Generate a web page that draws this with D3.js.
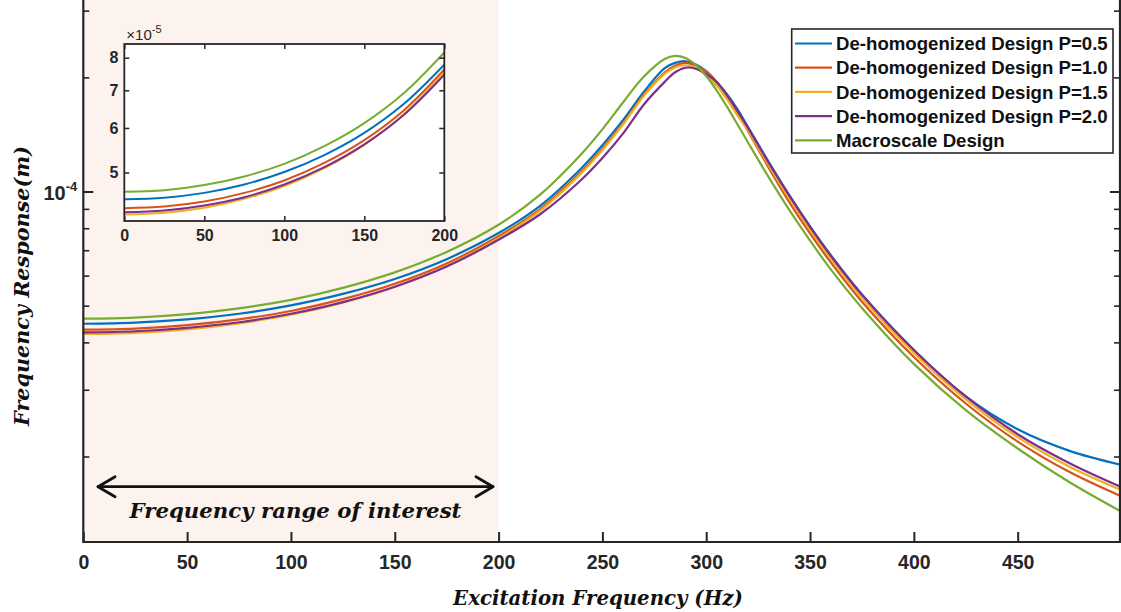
<!DOCTYPE html>
<html>
<head>
<meta charset="utf-8">
<script src="https://cdn.jsdelivr.net/npm/d3@7"></script>
<style>
  html, body { margin: 0; padding: 0; background: #fff; }
  svg { display: block; }
  .tick text { font-family: "Liberation Sans", Arial, sans-serif; font-weight: bold; fill: #262626; }
  .math { font-family: "DejaVu Serif", serif; font-weight: bold; font-style: italic; fill: #111; }
</style>
</head>
<body>
<script>
// Data ---------------------------------------------------------
// response values are in units of 1e-5 m
const freq = [0, 25, 50, 75, 100, 125, 150, 175, 200,
              220, 240, 250, 260, 270, 280, 285, 290, 295, 300, 305, 310, 315, 320,
              330, 340, 350, 360, 375, 400, 425, 450, 475, 500];

const respP05 = [4.48, 4.51, 4.60, 4.76, 5.01, 5.37, 5.88, 6.63, 7.77,
                 9.17, 11.54, 13.25, 15.45, 18.34, 21.16, 21.84, 22.06, 21.62, 20.77, 19.48, 18.06, 16.5, 14.84,
                 11.99, 9.78, 8.09, 6.79, 5.35, 3.82, 2.88, 2.36, 2.07, 1.90];
const respP10 = [4.32, 4.35, 4.44, 4.60, 4.84, 5.20, 5.71, 6.46, 7.62,
                 8.99, 11.30, 12.97, 15.15, 18.0, 20.59, 21.47, 21.85, 21.51, 20.7, 19.44, 17.85, 16.18, 14.47,
                 11.58, 9.38, 7.75, 6.50, 5.12, 3.66, 2.76, 2.19, 1.82, 1.57];
const respP15 = [4.21, 4.24, 4.33, 4.49, 4.73, 5.09, 5.60, 6.36, 7.53,
                 8.90, 11.20, 12.86, 15.03, 17.88, 20.43, 21.24, 21.53, 21.14, 20.25, 19.04, 17.5, 15.89, 14.52,
                 11.75, 9.57, 7.92, 6.65, 5.24, 3.75, 2.83, 2.25, 1.88, 1.63];
const respP20 = [4.25, 4.28, 4.37, 4.52, 4.76, 5.11, 5.61, 6.34, 7.46,
                 8.71, 10.76, 12.26, 14.24, 16.97, 19.46, 20.63, 21.21, 21.08, 20.42, 19.45, 17.96, 16.33, 14.76,
                 11.93, 9.75, 8.07, 6.77, 5.34, 3.82, 2.88, 2.29, 1.92, 1.66];
const respMacro = [4.62, 4.65, 4.75, 4.92, 5.18, 5.57, 6.12, 6.93, 8.17,
                   9.81, 12.58, 14.59, 17.20, 20.1, 22.37, 22.78, 22.49, 21.56, 20.16, 18.48, 16.74, 15.05, 13.51,
                   10.93, 8.94, 7.42, 6.23, 4.93, 3.51, 2.65, 2.10, 1.71, 1.43];

const seriesNames = ['De-homogenized Design P=0.5', 'De-homogenized Design P=1.0', 'De-homogenized Design P=1.5',
                     'De-homogenized Design P=2.0', 'Macroscale Design'];
const seriesValues = [respP05, respP10, respP15, respP20, respMacro];

const xTicks = [0, 50, 100, 150, 200, 250, 300, 350, 400, 450];
const yMajorTicks = [1e-4];
const yMinorTicks = [2e-5, 3e-5, 4e-5, 5e-5, 6e-5, 7e-5, 8e-5, 9e-5, 2e-4, 3e-4];
const insetXTicks = [0, 50, 100, 150, 200];
const insetYTicks = [5, 6, 7, 8];
const rangeOfInterest = [0, 200];

// Layout -------------------------------------------------------
const colors = ['#0072BD', '#D95319', '#EDB120', '#7E2F8E', '#77AC30'];
const axisColor = '#262626';
const W = 1121, H = 612;
const plot = {left: 83.3, right: 1121.5, top: 0, bottom: 542};
const inset = {left: 124.3, right: 444.3, top: 44, bottom: 221};

const svg = d3.select('body').append('svg')
  .attr('width', W).attr('height', H)
  .attr('viewBox', `0 0 ${W} ${H}`);

// Scales -------------------------------------------------------
const x = d3.scaleLinear().domain([0, 500]).range([plot.left, plot.right]);
const y = d3.scaleLog().domain([1.19e-5, 3.2e-4]).range([plot.bottom, plot.top]);

const ix = d3.scaleLinear().domain([0, 200]).range([inset.left, inset.right]);
const iy = d3.scaleLog().domain([4.10, 8.46]).range([inset.bottom, inset.top]);

const fitText = (sel, target, base) => {
  sel.style('font-size', `${base}px`);
  const len = sel.node().getComputedTextLength();
  sel.style('font-size', `${base * target / len}px`);
};

// Shaded frequency range ---------------------------------------
svg.append('rect')
  .attr('x', x(rangeOfInterest[0]))
  .attr('y', plot.top)
  .attr('width', x(rangeOfInterest[1]) - x(rangeOfInterest[0]))
  .attr('height', plot.bottom - plot.top)
  .attr('fill', '#fcf3ee');

// Main curves --------------------------------------------------
svg.append('clipPath').attr('id', 'clip-main')
  .append('rect')
  .attr('x', plot.left).attr('y', plot.top)
  .attr('width', plot.right - 1.5 - plot.left).attr('height', plot.bottom - plot.top);

const line = d3.line()
  .x(d => x(d[0]))
  .y(d => y(d[1] * 1e-5))
  .curve(d3.curveCatmullRom.alpha(0.5));

svg.append('g')
  .attr('clip-path', 'url(#clip-main)')
  .selectAll('path')
  .data(seriesValues)
  .enter()
  .append('path')
  .attr('d', vals => line(freq.map((f, i) => [f, vals[i]])))
  .attr('fill', 'none')
  .attr('stroke', (d, i) => colors[i])
  .attr('stroke-width', 2.2);

// Axes ---------------------------------------------------------
const styleAxis = (g, w) => {
  g.select('.domain').remove();
  g.selectAll('.tick line').attr('stroke', axisColor).attr('stroke-width', w);
};

svg.append('g')
  .attr('transform', `translate(0, ${plot.bottom})`)
  .call(d3.axisBottom(x).tickValues(xTicks).tickSizeInner(-10).tickSizeOuter(0).tickPadding(13))
  .call(g => styleAxis(g, 2))
  .call(g => g.selectAll('.tick text').style('font-size', '19.5px'));

const yAxisL = svg.append('g')
  .attr('transform', `translate(${plot.left}, 0)`);
yAxisL.append('g')
  .call(d3.axisLeft(y).tickValues(yMajorTicks).tickSizeInner(-10).tickSizeOuter(0).tickFormat(''))
  .call(g => styleAxis(g, 2));
yAxisL.append('g')
  .call(d3.axisLeft(y).tickValues(yMinorTicks).tickSizeInner(-6).tickSizeOuter(0).tickFormat(''))
  .call(g => styleAxis(g, 1.6));

const yAxisR = svg.append('g')
  .attr('transform', `translate(${plot.right - 1.5}, 0)`);
yAxisR.append('g')
  .call(d3.axisRight(y).tickValues(yMajorTicks).tickSizeInner(-10).tickSizeOuter(0).tickFormat(''))
  .call(g => styleAxis(g, 2));
yAxisR.append('g')
  .call(d3.axisRight(y).tickValues(yMinorTicks).tickSizeInner(-6).tickSizeOuter(0).tickFormat(''))
  .call(g => styleAxis(g, 1.6));

// 10^-4 label
const majorLabel = svg.append('text')
  .attr('x', plot.left - 6)
  .attr('y', y(yMajorTicks[0]) + 8)
  .attr('text-anchor', 'end')
  .style('font-family', '"Liberation Sans", Arial, sans-serif')
  .style('font-weight', 'bold')
  .style('fill', axisColor);
majorLabel.append('tspan').style('font-size', '20px').text('10');
majorLabel.append('tspan').attr('dy', -9).style('font-size', '13px').text('-4');

// Frame
svg.append('path')
  .attr('d', `M${plot.left},${plot.top - 5}V${plot.bottom}H${plot.right - 1.5}V${plot.top - 5}`)
  .attr('fill', 'none')
  .attr('stroke', axisColor)
  .attr('stroke-width', 2.2);

// Axis titles --------------------------------------------------
const xTitle = svg.append('text')
  .attr('class', 'math')
  .attr('x', 598).attr('y', 605)
  .attr('text-anchor', 'middle')
  .text('Excitation Frequency (Hz)');
fitText(xTitle, 290, 20);

const yTitle = svg.append('text')
  .attr('class', 'math')
  .attr('transform', 'translate(29, 286) rotate(-90)')
  .attr('text-anchor', 'middle')
  .text('Frequency Response(m)');
fitText(yTitle, 280, 20);

// Range arrow --------------------------------------------------
const arrowY = 486.7;
const arrowL = x(7.1), arrowR = x(197.3);
const arrow = svg.append('g')
  .attr('fill', 'none')
  .attr('stroke', '#111')
  .attr('stroke-width', 2.8)
  .attr('stroke-linecap', 'round')
  .attr('stroke-linejoin', 'round');
arrow.append('path').attr('d', `M${arrowL},${arrowY}H${arrowR}`);
arrow.append('path').attr('d', `M${arrowL + 17},${arrowY - 10}L${arrowL},${arrowY}L${arrowL + 17},${arrowY + 10}`);
arrow.append('path').attr('d', `M${arrowR - 17},${arrowY - 10}L${arrowR},${arrowY}L${arrowR - 17},${arrowY + 10}`);

const arrowText = svg.append('text')
  .attr('class', 'math')
  .attr('x', (arrowL + arrowR) / 2).attr('y', 518)
  .attr('text-anchor', 'middle')
  .text('Frequency range of interest');
fitText(arrowText, 332, 20);

// Inset --------------------------------------------------------
const gi = svg.append('g').attr('id', 'inset');

gi.append('rect')
  .attr('x', inset.left).attr('y', inset.top)
  .attr('width', inset.right - inset.left).attr('height', inset.bottom - inset.top)
  .attr('fill', '#fff');

gi.append('clipPath').attr('id', 'clip-inset')
  .append('rect')
  .attr('x', inset.left).attr('y', inset.top)
  .attr('width', inset.right - inset.left).attr('height', inset.bottom - inset.top);

const insetLine = d3.line()
  .x(d => ix(d[0]))
  .y(d => iy(d[1]))
  .curve(d3.curveCatmullRom.alpha(0.5));

gi.append('g')
  .attr('clip-path', 'url(#clip-inset)')
  .selectAll('path')
  .data(seriesValues)
  .enter()
  .append('path')
  .attr('d', vals => insetLine(freq.map((f, i) => [f, vals[i]]).filter(d => d[0] <= 200)))
  .attr('fill', 'none')
  .attr('stroke', (d, i) => colors[i])
  .attr('stroke-width', 2);

gi.append('g')
  .attr('transform', `translate(0, ${inset.bottom})`)
  .call(d3.axisBottom(ix).tickValues(insetXTicks).tickSizeInner(-5).tickSizeOuter(0).tickPadding(9))
  .call(g => styleAxis(g, 1.5))
  .call(g => g.selectAll('.tick text').style('font-size', '16px'));
gi.append('g')
  .attr('transform', `translate(0, ${inset.top})`)
  .call(d3.axisTop(ix).tickValues(insetXTicks).tickSizeInner(-5).tickSizeOuter(0).tickFormat(''))
  .call(g => styleAxis(g, 1.5));
gi.append('g')
  .attr('transform', `translate(${inset.left}, 0)`)
  .call(d3.axisLeft(iy).tickValues(insetYTicks).tickSizeInner(-5).tickSizeOuter(0).tickPadding(6).tickFormat(d3.format('d')))
  .call(g => styleAxis(g, 1.5))
  .call(g => g.selectAll('.tick text').style('font-size', '16px'));
gi.append('g')
  .attr('transform', `translate(${inset.right}, 0)`)
  .call(d3.axisRight(iy).tickValues(insetYTicks).tickSizeInner(-5).tickSizeOuter(0).tickFormat(''))
  .call(g => styleAxis(g, 1.5));

gi.append('rect')
  .attr('x', inset.left).attr('y', inset.top)
  .attr('width', inset.right - inset.left).attr('height', inset.bottom - inset.top)
  .attr('fill', 'none')
  .attr('stroke', axisColor)
  .attr('stroke-width', 1.8);

const expLabel = gi.append('text')
  .attr('x', inset.left + 2).attr('y', inset.top - 4)
  .style('font-family', '"Liberation Sans", Arial, sans-serif')
  .style('fill', axisColor);
expLabel.append('tspan').style('font-size', '15px').text('\u00d710');
expLabel.append('tspan').attr('dy', -7).style('font-size', '11px').text('-5');

// Legend -------------------------------------------------------
const legend = svg.append('g').attr('id', 'legend');
legend.append('rect')
  .attr('x', 791.7).attr('y', 29)
  .attr('width', 321.3).attr('height', 124)
  .attr('fill', '#fff')
  .attr('stroke', axisColor)
  .attr('stroke-width', 1.6);

const items = legend.selectAll('g.item')
  .data(seriesNames)
  .enter()
  .append('g')
  .attr('class', 'item')
  .attr('transform', (d, i) => `translate(0, ${43.5 + i * 24.2})`);

items.append('line')
  .attr('x1', 795).attr('x2', 832)
  .attr('stroke', (d, i) => colors[i])
  .attr('stroke-width', 2.2);

const legendTexts = items.append('text')
  .attr('x', 836)
  .attr('dy', '0.36em')
  .style('font-family', '"Liberation Sans", Arial, sans-serif')
  .style('font-weight', 'bold')
  .style('fill', '#111')
  .text(d => d);

const first = legendTexts.filter((d, i) => i === 0);
fitText(first, 272, 18);
legendTexts.style('font-size', first.style('font-size'));
</script>
</body>
</html>
